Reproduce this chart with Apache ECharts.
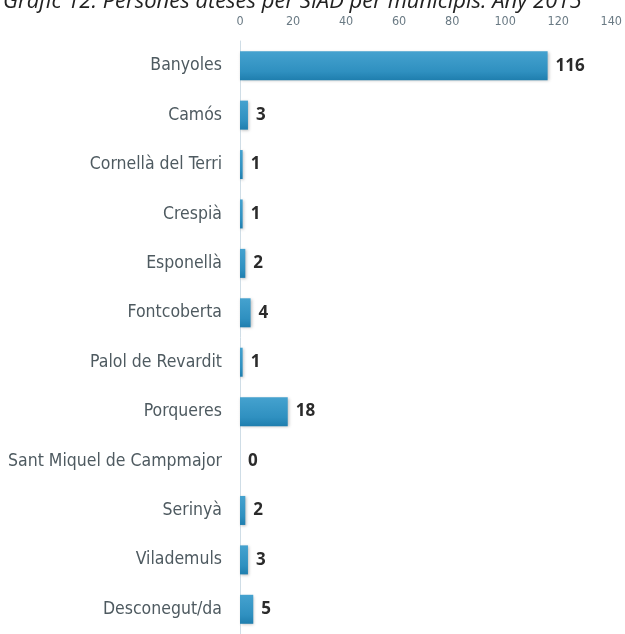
<!DOCTYPE html>
<html>
<head>
<meta charset="utf-8">
<script src="https://cdn.jsdelivr.net/npm/echarts@6/dist/echarts.min.js"></script>
<style>
  html, body { margin: 0; padding: 0; background: #fff; }
  #chart { width: 625px; height: 634px; }
</style>
</head>
<body>
<div id="chart"></div>
<script>
// municipis i persones ateses
const municipis = [
  'Banyoles', 'Camós', 'Cornellà del Terri', 'Crespià', 'Esponellà',
  'Fontcoberta', 'Palol de Revardit', 'Porqueres', 'Sant Miquel de Campmajor',
  'Serinyà', 'Vilademuls', 'Desconegut/da'
];
const persones = [116, 3, 1, 1, 2, 4, 1, 18, 0, 2, 3, 5];
const ticks = [0, 20, 40, 60, 80, 100, 120, 140];

const narrow = '"Liberation Sans Narrow", "DejaVu Sans Condensed", sans-serif';

const chart = echarts.init(document.getElementById('chart'));

const option = {
  animation: false,
  backgroundColor: '#fff',
  title: {
    text: 'Gràfic 12. Persones ateses per SIAD per municipis. Any 2015',
    left: -2,
    top: -14,
    textStyle: {
      fontFamily: '"Open Sans", sans-serif',
      fontStyle: 'italic',
      fontWeight: 'normal',
      fontSize: 22,
      color: '#222'
    }
  },
  grid: {
    left: 240,
    right: 10,
    top: 41,
    bottom: -13,
    containLabel: false
  },
  xAxis: {
    type: 'value',
    position: 'top',
    min: ticks[0],
    max: ticks[ticks.length - 1],
    interval: 20,
    axisLine: { show: false },
    axisTick: { show: false },
    splitLine: { show: false },
    axisLabel: {
      margin: 13,
      fontFamily: narrow,
      fontSize: 12.5,
      color: '#6a7a84'
    }
  },
  yAxis: {
    type: 'category',
    inverse: true,
    data: municipis,
    axisLine: { show: true, lineStyle: { color: '#cfdde6', width: 1 } },
    axisTick: { show: false },
    axisLabel: {
      margin: 18,
      fontFamily: narrow,
      fontSize: 17.5,
      color: '#4e5a60'
    }
  },
  series: [{
    type: 'bar',
    data: persones,
    barWidth: 29,
    itemStyle: {
      color: new echarts.graphic.LinearGradient(0, 0, 0, 1, [
        { offset: 0, color: '#45a2cf' },
        { offset: 0.7, color: '#2f90c0' },
        { offset: 1, color: '#1f7eae' }
      ]),
      shadowColor: 'rgba(0,0,0,0.25)',
      shadowBlur: 3,
      shadowOffsetX: 1,
      shadowOffsetY: 1
    },
    label: {
      show: true,
      position: 'right',
      distance: 8,
      fontFamily: '"Open Sans", sans-serif',
      fontWeight: 'bold',
      fontSize: 17,
      color: '#2b2b2b'
    }
  }]
};

chart.setOption(option);
</script>
</body>
</html>
